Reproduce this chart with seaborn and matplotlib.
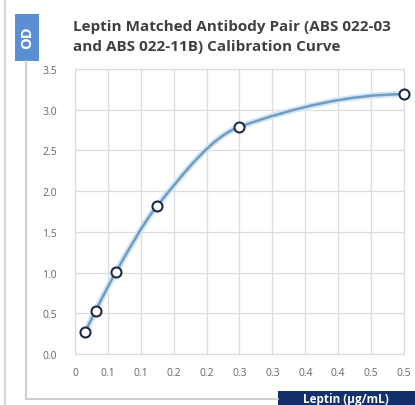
import numpy as np
import matplotlib
matplotlib.use("Agg")
import matplotlib.pyplot as plt
from matplotlib.path import Path
from matplotlib.patches import PathPatch, Rectangle
import pandas as pd
import seaborn as sns

# Data
leptin = [0.015625, 0.03125, 0.0625, 0.125, 0.25, 0.5]
od = [0.27, 0.53, 1.01, 1.82, 2.79, 3.19]
x_ticks = [0, 0.05, 0.1, 0.15, 0.2, 0.25, 0.3, 0.35, 0.4, 0.45, 0.5]
x_labels = ["0", "0.1", "0.1", "0.2", "0.2", "0.3", "0.3", "0.4", "0.4", "0.5", "0.5"]
y_ticks = [0.0, 0.5, 1.0, 1.5, 2.0, 2.5, 3.0, 3.5]
title = "Leptin Matched Antibody Pair (ABS 022-03\nand ABS 022-11B) Calibration Curve"

df = pd.DataFrame({"leptin": leptin, "od": od})

sns.set_style("white")
plt.rcParams["font.family"] = ["Open Sans", "DejaVu Sans"]


def smooth_path(xs, ys):
    # smoothed line as bezier segments with monotone (pchip-style) tangents
    xs = np.asarray(xs, float)
    ys = np.asarray(ys, float)
    h = np.diff(xs)
    d = np.diff(ys) / h
    n = len(xs)
    m = np.zeros(n)
    for i in range(1, n - 1):
        w1 = 2 * h[i] + h[i - 1]
        w2 = h[i] + 2 * h[i - 1]
        m[i] = (w1 + w2) / (w1 / d[i - 1] + w2 / d[i])

    def end(h0, h1, d0, d1):
        s = ((2 * h0 + h1) * d0 - h0 * d1) / (h0 + h1)
        if np.sign(s) != np.sign(d0):
            s = 0.0
        return s

    m[0] = end(h[0], h[1], d[0], d[1])
    m[-1] = end(h[-1], h[-2], d[-1], d[-2])
    verts = [(xs[0], ys[0])]
    codes = [Path.MOVETO]
    for i in range(n - 1):
        verts += [(xs[i] + h[i] / 3, ys[i] + m[i] * h[i] / 3),
                  (xs[i + 1] - h[i] / 3, ys[i + 1] - m[i + 1] * h[i] / 3),
                  (xs[i + 1], ys[i + 1])]
        codes += [Path.CURVE4] * 3
    return Path(verts, codes)


fig = plt.figure(figsize=(4.15, 4.06), dpi=100)
ax = fig.add_axes([0.1807, 0.1256, 0.7928, 0.702])

path = smooth_path(df["leptin"].values, df["od"].values)
ax.add_patch(PathPatch(path, facecolor="none", edgecolor="#d3e6f5", lw=4.5, zorder=2))
ax.add_patch(PathPatch(path, facecolor="none", edgecolor="#6f9cc2", lw=1.8, zorder=3))

sns.scatterplot(data=df, x="leptin", y="od", ax=ax, s=52, color="white",
                edgecolor="#1f2b45", linewidth=1.5, zorder=4, legend=False, clip_on=False)

ax.set_xlim(0, 0.5)
ax.set_ylim(0, 3.5)
ax.set_xticks(x_ticks)
ax.set_xticklabels(x_labels)
ax.set_yticks(y_ticks)
ax.set_yticklabels([f"{v:.1f}" for v in y_ticks])
ax.grid(True, color="#dcdcdc", lw=0.9)
for s in ax.spines.values():
    s.set_color("#dcdcdc")
    s.set_linewidth(0.9)
ax.tick_params(axis="y", length=0, labelsize=7.5, colors="#666666", pad=13)
ax.tick_params(axis="x", length=0, labelsize=7.5, colors="#666666", pad=9)
ax.set_xlabel("")
ax.set_ylabel("")

# frame lines
fig.add_artist(plt.Line2D([5 / 415, 5 / 415], [0.0, 1.0], color="#d8d8d8", lw=1.5))
fig.add_artist(plt.Line2D([26 / 415, 26 / 415], [1 - 62 / 406, 1 - 400 / 406], color="#cfcfcf", lw=1.5))
fig.add_artist(plt.Line2D([26 / 415, 278 / 415], [1 - 400 / 406, 1 - 400 / 406], color="#cfcfcf", lw=1.5))

# OD badge
fig.add_artist(Rectangle((15 / 415, 1 - 62 / 406), 24 / 415, 47 / 406,
                         transform=fig.transFigure, facecolor="#5b8fd3", edgecolor="none"))
fig.text(27 / 415, 1 - 38 / 406, "OD", rotation=90, color="white", fontsize=10.5,
         fontweight="bold", ha="center", va="center")

# title
fig.text(73 / 415, 1 - 20 / 406, title, fontsize=11, fontweight="bold", color="#404040",
         ha="left", va="top", linespacing=1.5)

# x-axis label badge
fig.add_artist(Rectangle((278 / 415, 0), 137 / 415, 14 / 406,
                         transform=fig.transFigure, facecolor="#13306b", edgecolor="none"))
fig.text(346 / 415, 6 / 406, "Leptin (µg/mL)", color="white", fontsize=8.5,
         fontweight="bold", ha="center", va="center")

fig.savefig("out.png", dpi=100)
